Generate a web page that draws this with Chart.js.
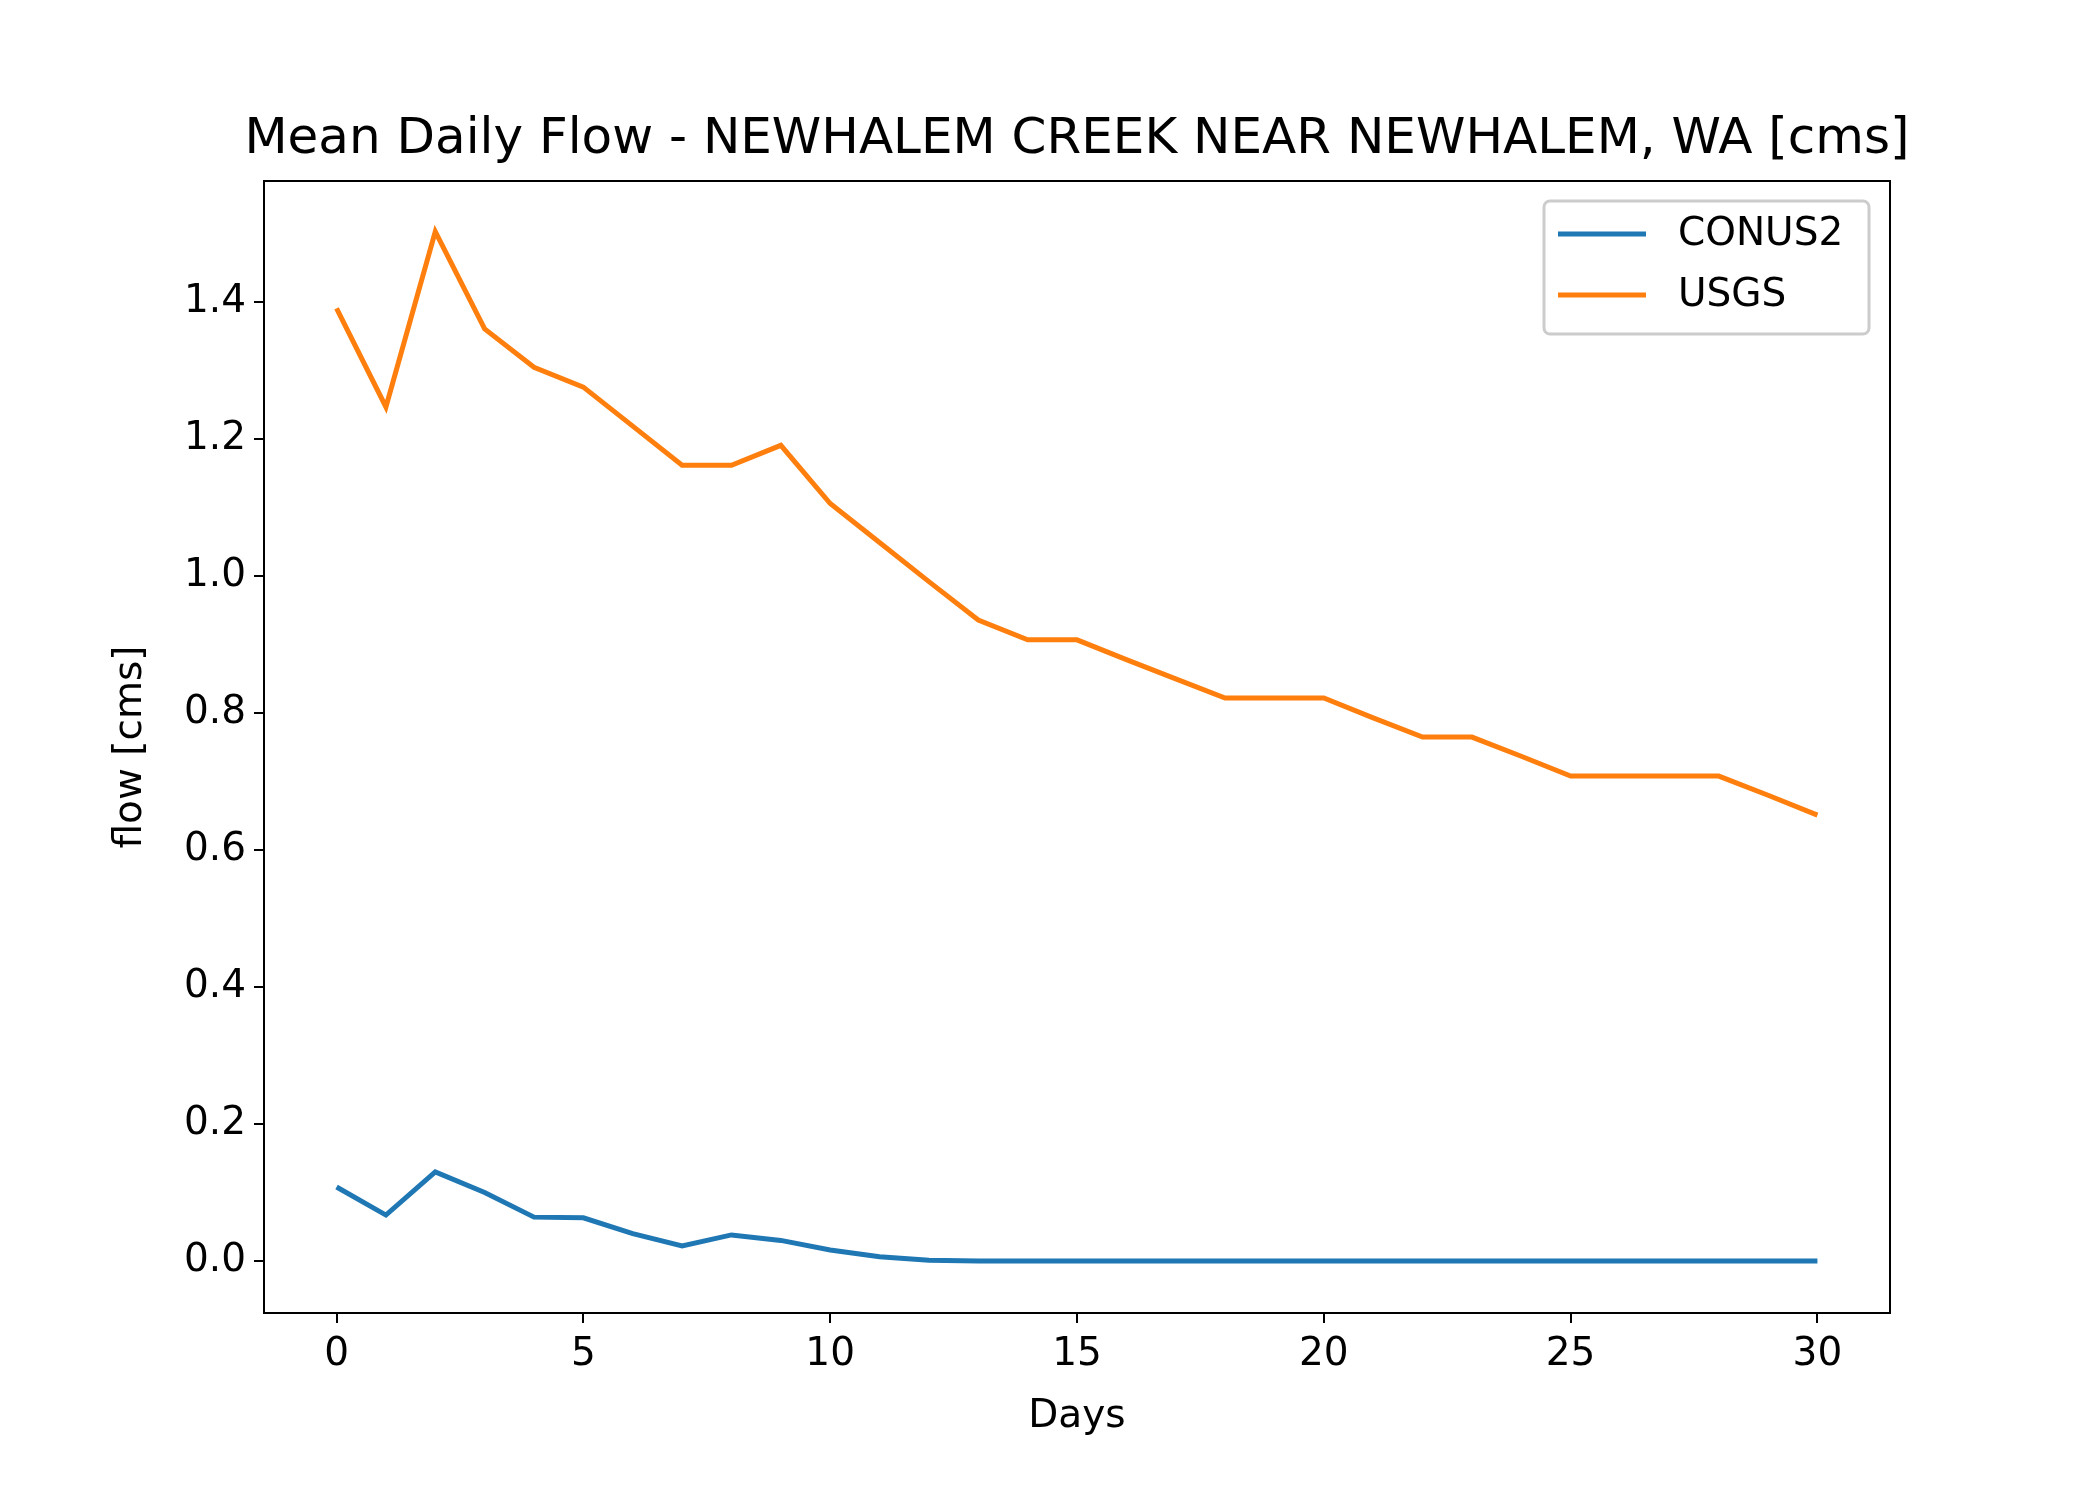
<!DOCTYPE html>
<html>
<head>
<meta charset="utf-8">
<script src="https://cdn.jsdelivr.net/npm/chart.js@4"></script>
<style>body{margin:0;background:#fff}</style>
</head>
<body>
<canvas id="myChart" width="2100" height="1500"></canvas>
<script>
const days = Array.from({length: 31}, (_, i) => i);
const conus2 = [0.108, 0.067, 0.130, 0.100, 0.064, 0.063, 0.040, 0.022, 0.038, 0.030, 0.016, 0.006, 0.001,
  0, 0, 0, 0, 0, 0, 0, 0, 0, 0, 0, 0, 0, 0, 0, 0, 0, 0];
const usgs = [1.391, 1.247, 1.503, 1.361, 1.305, 1.276, 1.219, 1.162, 1.162, 1.191, 1.106, 1.049, 0.992,
  0.936, 0.907, 0.907, 0.878, 0.850, 0.822, 0.822, 0.822, 0.793, 0.765, 0.765, 0.737, 0.708,
  0.708, 0.708, 0.708, 0.680, 0.651];
const xTicks = [0, 5, 10, 15, 20, 25, 30];
const yTicks = [0, 0.2, 0.4, 0.6, 0.8, 1.0, 1.2, 1.4];

const FONT = 'DejaVu Sans';
const pts = arr => arr.map((v, i) => ({x: days[i], y: v}));

const frame = {
  id: 'frame',
  afterDraw(chart) {
    const {ctx, chartArea: a} = chart;
    ctx.save();
    ctx.strokeStyle = '#000';
    ctx.lineWidth = 2;
    ctx.strokeRect(a.left, a.top, a.right - a.left, a.bottom - a.top);
    ctx.fillStyle = '#000';
    ctx.textAlign = 'center';
    ctx.textBaseline = 'alphabetic';
    ctx.font = '50px ' + FONT;
    ctx.fillText('Mean Daily Flow - NEWHALEM CREEK NEAR NEWHALEM, WA [cms]', (a.left + a.right) / 2, 153);
    ctx.font = '39px ' + FONT;
    ctx.fillText('Days', (a.left + a.right) / 2, 1427);
    ctx.translate(141, (a.top + a.bottom) / 2);
    ctx.rotate(-Math.PI / 2);
    ctx.fillText('flow [cms]', 0, 0);
    ctx.restore();
    // legend
    ctx.save();
    ctx.fillStyle = 'rgba(255,255,255,0.8)';
    ctx.strokeStyle = '#ccc';
    ctx.lineWidth = 3;
    ctx.beginPath();
    ctx.roundRect(1544, 201, 325, 133, 6);
    ctx.fill(); ctx.stroke();
    ctx.font = '39px ' + FONT;
    ctx.textBaseline = 'middle';
    chart.data.datasets.forEach((ds, i) => {
      const y = 234 + i * 61;
      ctx.strokeStyle = ds.borderColor;
      ctx.lineWidth = 5;
      ctx.beginPath(); ctx.moveTo(1558, y); ctx.lineTo(1646, y); ctx.stroke();
      ctx.fillStyle = '#000';
      ctx.textAlign = 'left';
      ctx.fillText(ds.label, 1678, y + 1);
    });
    ctx.restore();
  }
};

new Chart(document.getElementById('myChart'), {
  type: 'line',
  data: {
    datasets: [
      {label: 'CONUS2', data: pts(conus2), borderColor: '#1f77b4', borderWidth: 5, pointRadius: 0, tension: 0},
      {label: 'USGS', data: pts(usgs), borderColor: '#ff7f0e', borderWidth: 5, pointRadius: 0, tension: 0}
    ]
  },
  options: {
    responsive: false,
    animation: false,
    devicePixelRatio: 1,
    layout: {padding: {top: 181, right: 210, left: 0, bottom: 0}},
    plugins: {legend: {display: false}, title: {display: false}, tooltip: {enabled: false}},
    scales: {
      x: {
        type: 'linear', min: -1.47, max: 31.47,
        afterFit: s => { s.height = 187; },
        afterBuildTicks: s => { s.ticks = xTicks.map(v => ({value: v})); },
        grid: {drawOnChartArea: false, drawTicks: true, tickLength: 10, color: '#000', lineWidth: 2},
        border: {display: false},
        ticks: {color: '#000', font: {family: FONT, size: 39}, padding: 8, maxRotation: 0}
      },
      y: {
        min: -0.076, max: 1.577,
        afterFit: s => { s.width = 264; },
        afterBuildTicks: s => { s.ticks = yTicks.map(v => ({value: v})); },
        grid: {drawOnChartArea: false, drawTicks: true, tickLength: 10, color: '#000', lineWidth: 2},
        border: {display: false},
        ticks: {color: '#000', font: {family: FONT, size: 39}, padding: 8, callback: v => v.toFixed(1)}
      }
    }
  },
  plugins: [frame]
});
</script>
</body>
</html>
